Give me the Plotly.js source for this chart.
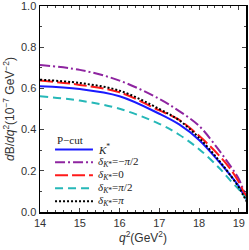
<!DOCTYPE html>
<html><head><meta charset="utf-8">
<script src="https://cdn.plot.ly/plotly-3.0.1.min.js"></script>
<style>html,body{margin:0;padding:0;background:#fff}#c{width:249px;height:250px}</style>
</head><body><div id="c"></div>
<script>
var q2 = [14, 15, 16, 17, 17.5, 18, 18.5, 18.8, 19.0, 19.1, 19.2];
var kstar = [0.610, 0.597, 0.562, 0.477, 0.425, 0.350, 0.245, 0.175, 0.125, 0.092, 0.060];
var dMinusHalfPi = [0.713, 0.690, 0.638, 0.549, 0.490, 0.418, 0.300, 0.220, 0.160, 0.115, 0.070];
var dZero = [0.638, 0.617, 0.581, 0.493, 0.447, 0.370, 0.275, 0.205, 0.145, 0.106, 0.068];
var dHalfPi = [0.562, 0.541, 0.501, 0.428, 0.375, 0.305, 0.215, 0.150, 0.110, 0.085, 0.062];
var dPi = [0.642, 0.626, 0.589, 0.500, 0.445, 0.360, 0.250, 0.175, 0.120, 0.085, 0.050];
var names = ['<i>K</i><sup>*</sup>', '<i>δ</i><sub><i>K</i>*</sub>=−<i>π</i>/2', '<i>δ</i><sub><i>K</i>*</sub>=0', '<i>δ</i><sub><i>K</i>*</sub>=<i>π</i>/2', '<i>δ</i><sub><i>K</i>*</sub>=<i>π</i>'];
var legendTitle = 'P−cut';
var series = [kstar, dMinusHalfPi, dZero, dHalfPi, dPi];
var colors = ['#1a1aff', '#8e24a0', '#ff1a1a', '#26b8b8', '#000000'];
var dashes = ['solid', '10px,3px,2px,3px', '13px,4px', '8px,5px', '2px,2px'];
var traces = series.map(function(s, i){
  return {x: q2, y: s, type: 'scatter', mode: 'lines', name: names[i],
    line: {color: colors[i], width: 2, dash: dashes[i], shape: 'spline', smoothing: 1}};
});
// manual legend (paper coordinates)
var legX0 = 0.073, legX1 = 0.257, legTextX = 0.272, legTop = 0.304, legStep = 0.063;
var shapes = [], annotations = [];
annotations.push({xref: 'paper', yref: 'paper', x: legX0, y: 0.348, xanchor: 'left', yanchor: 'middle',
  text: legendTitle, showarrow: false, font: {family: 'Liberation Serif', size: 11, color: '#222'}});
series.forEach(function(s, i){
  var yy = legTop - i * legStep;
  shapes.push({type: 'line', xref: 'paper', yref: 'paper', x0: legX0, x1: legX1, y0: yy, y1: yy,
    line: {color: colors[i], width: 2, dash: dashes[i]}});
  annotations.push({xref: 'paper', yref: 'paper', x: legTextX, y: yy, xanchor: 'left', yanchor: 'middle',
    text: names[i], showarrow: false, font: {family: 'Liberation Serif', size: 11, color: '#222'}});
});
var layout = {
  width: 249, height: 250,
  margin: {l: 40, r: 3, t: 6, b: 38},
  paper_bgcolor: '#fff', plot_bgcolor: '#fff',
  showlegend: false,
  shapes: shapes, annotations: annotations,
  xaxis: {range: [14, 19.18], tickvals: [14, 15, 16, 17, 18, 19], ticks: 'inside', ticklen: 4,
    showline: true, linewidth: 1.5, linecolor: '#000', mirror: 'ticks', showgrid: false, zeroline: false,
    tickfont: {family: 'Liberation Sans', size: 11, color: '#333'}, ticklabeloverflow: 'allow',
    minor: {dtick: 0.2, ticks: 'inside', ticklen: 2, showgrid: false},
    title: {text: '<i>q</i><sup>2</sup>(GeV<sup>2</sup>)', font: {family: 'Liberation Sans', size: 12, color: '#333'}, standoff: 4}},
  yaxis: {range: [0, 1], tickvals: [0, 0.2, 0.4, 0.6, 0.8, 1.0], ticktext: ['0.0', '0.2', '0.4', '0.6', '0.8', '1.0'],
    ticks: 'inside', ticklen: 4, ticklabeloverflow: 'allow',
    showline: true, linewidth: 1.5, linecolor: '#000', mirror: 'ticks', showgrid: false, zeroline: false,
    tickfont: {family: 'Liberation Sans', size: 11, color: '#333'},
    minor: {dtick: 0.1, ticks: 'inside', ticklen: 2, showgrid: false},
    title: {text: '<i>d</i>B/<i>dq</i><sup>2</sup>(10<sup>−7</sup> GeV<sup>−2</sup>)', font: {family: 'Liberation Sans', size: 12, color: '#333'}, standoff: 4}}
};
Plotly.newPlot('c', traces, layout, {displayModeBar: false, staticPlot: true});
</script></body></html>
